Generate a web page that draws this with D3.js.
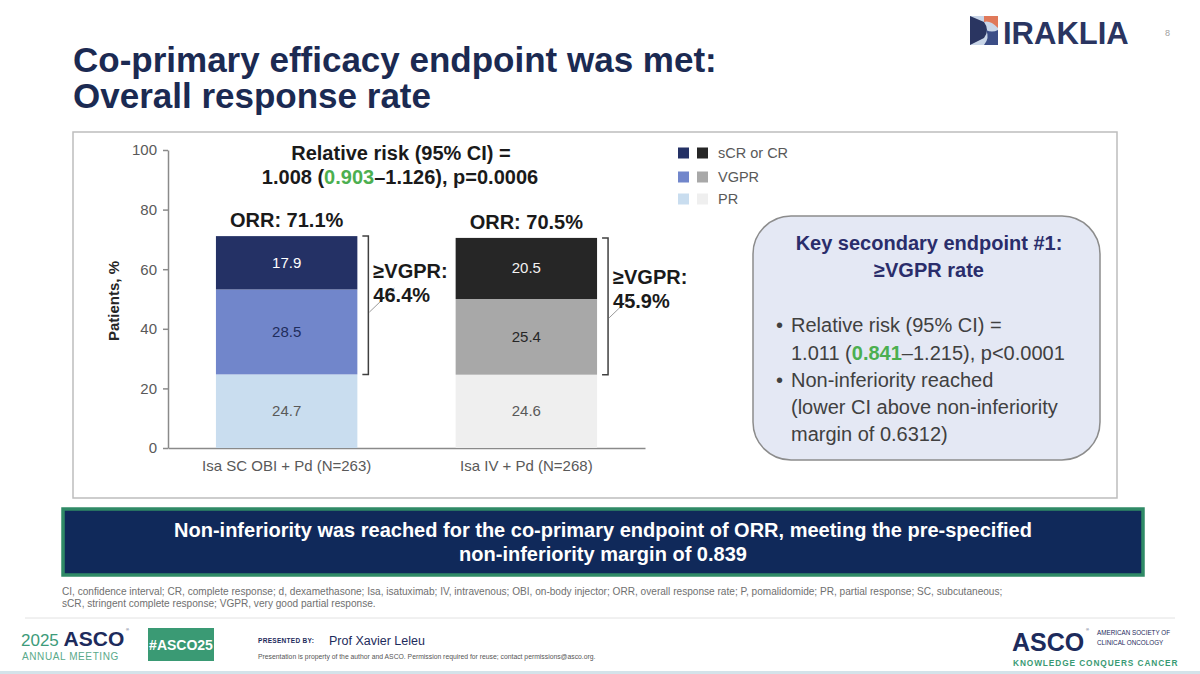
<!DOCTYPE html>
<html><head><meta charset="utf-8">
<script src="https://cdn.jsdelivr.net/npm/d3@7"></script>
<style>
html,body{margin:0;padding:0;background:#fff;}
svg{display:block;font-family:"Liberation Sans",Arial,Helvetica,sans-serif;}
</style>
</head><body>
<svg id="c" width="1200" height="674"></svg>
<script>
// ---------- DATA ----------
const categories = ["Isa SC OBI + Pd (N=263)", "Isa IV + Pd (N=268)"];
const stackKeys = ["PR", "VGPR", "CR"];
const prValues = [24.7, 24.6];
const vgprValues = [28.5, 25.4];
const crValues = [17.9, 20.5];
const orrLabels = ["ORR: 71.1%", "ORR: 70.5%"];
const vgprOrBetterLabels = ["46.4%", "45.9%"];
const yTicks = [0, 20, 40, 60, 80, 100];
const legendLabels = ["sCR or CR", "VGPR", "PR"];

// ---------- STYLES ----------
const fillColors = {
  CR:   ["#243165", "#262626"],
  VGPR: ["#7186cb", "#a8a8a8"],
  PR:   ["#c9ddef", "#efefef"]
};
const valueTextColors = {
  CR:   ["#ffffff", "#f2f2f2"],
  VGPR: ["#1f2d5c", "#262626"],
  PR:   ["#595959", "#595959"]
};
const navy = "#1b2a52";
const green = "#4caf50";
const axisGray = "#8a8a8a";
const tickText = "#595959";

const svg = d3.select("#c");

// ---------- HEADER ----------
svg.append("text").attr("fill", navy).attr("font-weight", "bold").attr("font-size", 35)
  .attr("x", 73).attr("y", 72).text("Co-primary efficacy endpoint was met:");
svg.append("text").attr("fill", navy).attr("font-weight", "bold").attr("font-size", 35)
  .attr("x", 73).attr("y", 108).text("Overall response rate");

// IRAKLIA logo
const logo = svg.append("g");
logo.append("rect").attr("x", 970).attr("y", 16).attr("width", 28).attr("height", 29).attr("fill", "#c9d6e8");
logo.append("path").attr("d", "M970,16 L984,22 Q990,30 984,38 L970,45 Z").attr("fill", "#2a3561");
logo.append("path").attr("d", "M984,16 L998,16 L998,28 Q990,20 984,22 Z").attr("fill", "#e0795a");
logo.append("path").attr("d", "M986,30 Q992,33 998,30 L998,45 L984,45 Q990,38 986,30 Z").attr("fill", "#3b4d86");
svg.append("text").attr("x", 1003).attr("y", 44).attr("fill", "#2a3561")
  .attr("font-weight", "bold").attr("font-size", 31).text("IRAKLIA");
svg.append("text").attr("x", 1165).attr("y", 36).attr("fill", "#a0a0a0")
  .attr("font-size", 9).text("8");

// ---------- CHART FRAME ----------
svg.append("rect").attr("x", 73).attr("y", 132).attr("width", 1044).attr("height", 366)
  .attr("fill", "#fff").attr("stroke", "#bdbdbd").attr("stroke-width", 1.5);

// ---------- SCALES ----------
const x = d3.scaleBand().domain(categories).range([168, 645]).paddingInner(0.41).paddingOuter(0.2);
const y = d3.scaleLinear().domain([0, 100]).range([448, 150]);

const rows = categories.map((c, i) => ({ cat: c, idx: i, PR: prValues[i], VGPR: vgprValues[i], CR: crValues[i] }));
const series = d3.stack().keys(stackKeys)(rows);

// Axes
const yAxis = d3.axisLeft(y).tickValues(yTicks).tickSize(5).tickPadding(6).tickSizeOuter(0);
const gy = svg.append("g").attr("transform", "translate(168,0)").call(yAxis);
gy.select(".domain").attr("stroke", axisGray).attr("stroke-width", 1.5);
gy.selectAll(".tick line").attr("stroke", axisGray).attr("stroke-width", 1.5);
gy.selectAll(".tick text").attr("fill", tickText).attr("font-size", 15)
  .attr("font-family", "'Liberation Sans', Arial, sans-serif");

const xAxis = d3.axisBottom(x).tickSize(0).tickPadding(12).tickSizeOuter(0);
const gx = svg.append("g").attr("transform", "translate(0,448)").call(xAxis);
gx.select(".domain").attr("stroke", axisGray).attr("stroke-width", 1.5);
gx.selectAll(".tick text").attr("fill", tickText).attr("font-size", 15)
  .attr("font-family", "'Liberation Sans', Arial, sans-serif");

svg.append("text").attr("transform", "translate(119,301) rotate(-90)")
  .attr("text-anchor", "middle").attr("font-weight", "bold").attr("font-size", 15)
  .attr("fill", "#262626").text("Patients, %");

// Bars
const layers = svg.append("g").selectAll("g").data(series).join("g");
layers.selectAll("rect").data(d => d.map(v => Object.assign({ key: d.key }, v)))
  .join("rect")
  .attr("x", d => x(d.data.cat))
  .attr("width", x.bandwidth())
  .attr("y", d => y(d[1]))
  .attr("height", d => y(d[0]) - y(d[1]))
  .attr("fill", d => fillColors[d.key][d.data.idx]);
layers.selectAll("text").data(d => d.map(v => Object.assign({ key: d.key }, v)))
  .join("text")
  .attr("x", d => x(d.data.cat) + x.bandwidth() / 2)
  .attr("y", d => y((d[0] + d[1]) / 2) + 5)
  .attr("text-anchor", "middle").attr("font-size", 15)
  .attr("fill", d => valueTextColors[d.key][d.data.idx])
  .text(d => (d[1] - d[0]).toFixed(1));

// ORR labels
const topSeries = series[series.length - 1];
svg.append("g").selectAll("text").data(topSeries).join("text")
  .attr("x", d => x(d.data.cat) + x.bandwidth() / 2)
  .attr("y", d => y(d[1]) - 9)
  .attr("text-anchor", "middle").attr("font-weight", "bold").attr("font-size", 20)
  .attr("fill", "#1a1a1a")
  .text((d, i) => orrLabels[i]);

// ≥VGPR brackets
const vgprSeries = series[1];
const br = svg.append("g");
topSeries.forEach((d, i) => {
  const bx = x(d.data.cat) + x.bandwidth() + 11;
  const yTop = y(d[1]);
  const yBot = y(vgprSeries[i][0]);
  br.append("path")
    .attr("d", `M${bx - 6},${yTop} L${bx},${yTop} L${bx},${yBot} L${bx - 6},${yBot}`)
    .attr("fill", "none").attr("stroke", "#404040").attr("stroke-width", 1.5);
  const lb = yTop + 42 + i * 4;
  br.append("line").attr("x1", bx + 1).attr("y1", lb + 34).attr("x2", bx + 26).attr("y2", lb + 10)
    .attr("stroke", "#9a9a9a").attr("stroke-width", 1);
  const t = br.append("text").attr("font-weight", "bold").attr("font-size", 20).attr("fill", "#1a1a1a");
  t.append("tspan").attr("x", bx + 5).attr("y", lb).text("≥VGPR:");
  t.append("tspan").attr("x", bx + 5).attr("y", lb + 24).text(vgprOrBetterLabels[i]);
});

// Relative risk header
const rr = svg.append("text").attr("text-anchor", "middle").attr("font-weight", "bold")
  .attr("font-size", 20).attr("fill", "#1a1a1a");
rr.append("tspan").attr("x", 401).attr("y", 160).text("Relative risk (95% CI) =");
const rr2 = rr.append("tspan").attr("x", 400).attr("y", 184);
rr2.append("tspan").text("1.008 (");
rr2.append("tspan").attr("fill", green).text("0.903");
rr2.append("tspan").text("–1.126), p=0.0006");

// Legend
const legendRowsY = [153, 177, 199];
const legendKeys = ["CR", "VGPR", "PR"];
const lg = svg.append("g");
legendKeys.forEach((k, r) => {
  [678, 697].forEach((lx, j) => {
    lg.append("rect").attr("x", lx).attr("y", legendRowsY[r] - 5.5).attr("width", 11).attr("height", 11)
      .attr("fill", fillColors[k][j]);
  });
  lg.append("text").attr("x", 718).attr("y", legendRowsY[r] + 5).attr("font-size", 14.5)
    .attr("fill", tickText).text(legendLabels[r]);
});

// Key secondary endpoint box
svg.append("rect").attr("x", 753).attr("y", 216).attr("width", 347).attr("height", 244)
  .attr("rx", 38).attr("ry", 38).attr("fill", "#e4e8f4").attr("stroke", "#8c8c8c").attr("stroke-width", 1.5);
const kt = svg.append("text").attr("text-anchor", "middle").attr("font-weight", "bold")
  .attr("font-size", 20).attr("fill", "#2a2d6b");
kt.append("tspan").attr("x", 929).attr("y", 250).text("Key secondary endpoint #1:");
kt.append("tspan").attr("x", 929).attr("y", 277).text("≥VGPR rate");
const kb = svg.append("g").attr("font-size", 20).attr("fill", "#404040");
kb.append("text").attr("x", 776).attr("y", 332).text("•");
kb.append("text").attr("x", 776).attr("y", 387).text("•");
kb.append("text").attr("x", 791).attr("y", 332).text("Relative risk (95% CI) =");
const kl2 = kb.append("text").attr("x", 791).attr("y", 360);
kl2.append("tspan").text("1.011 (");
kl2.append("tspan").attr("fill", green).attr("font-weight", "bold").text("0.841");
kl2.append("tspan").text("–1.215), p<0.0001");
kb.append("text").attr("x", 791).attr("y", 387).text("Non-inferiority reached");
kb.append("text").attr("x", 791).attr("y", 414).text("(lower CI above non-inferiority");
kb.append("text").attr("x", 791).attr("y", 441).text("margin of 0.6312)");

// ---------- BANNER ----------
svg.append("rect").attr("x", 63).attr("y", 509).attr("width", 1080).attr("height", 66)
  .attr("fill", "#10295a").attr("stroke", "#2f8a66").attr("stroke-width", 3.5);
const bn = svg.append("text").attr("text-anchor", "middle").attr("fill", "#fff")
  .attr("font-weight", "bold").attr("font-size", 20);
bn.append("tspan").attr("x", 603).attr("y", 537)
  .text("Non-inferiority was reached for the co-primary endpoint of ORR, meeting the pre-specified");
bn.append("tspan").attr("x", 603).attr("y", 561).text("non-inferiority margin of 0.839");

// Footnote
const fn = svg.append("text").attr("font-size", 10.1).attr("fill", "#707070");
fn.append("tspan").attr("x", 62).attr("y", 595)
  .text("CI, confidence interval; CR, complete response; d, dexamethasone; Isa, isatuximab; IV, intravenous; OBI, on-body injector; ORR, overall response rate; P, pomalidomide; PR, partial response; SC, subcutaneous;");
fn.append("tspan").attr("x", 62).attr("y", 607)
  .text("sCR, stringent complete response; VGPR, very good partial response.");

// ---------- FOOTER ----------
svg.append("line").attr("x1", 25).attr("x2", 1175).attr("y1", 618).attr("y2", 618)
  .attr("stroke", "#e2e2e2").attr("stroke-width", 1);
const asco1 = svg.append("text").attr("x", 21).attr("y", 646);
asco1.append("tspan").attr("fill", "#3d9b7a").attr("font-size", 17).text("2025 ");
asco1.append("tspan").attr("fill", "#1d2b5c").attr("font-weight", "bold").attr("font-size", 21).text("ASCO");
svg.append("text").attr("x", 126).attr("y", 631).attr("font-size", 4).attr("fill", "#1d2b5c").text("®");
svg.append("text").attr("x", 22).attr("y", 660).attr("font-size", 10).attr("letter-spacing", 0.6)
  .attr("fill", "#5aa98a").text("ANNUAL MEETING");
svg.append("rect").attr("x", 148).attr("y", 628).attr("width", 66).attr("height", 33).attr("fill", "#3a9a74");
svg.append("text").attr("x", 181).attr("y", 650).attr("text-anchor", "middle").attr("fill", "#fff")
  .attr("font-weight", "bold").attr("font-size", 14).text("#ASCO25");
svg.append("text").attr("x", 258).attr("y", 643).attr("font-size", 6.5).attr("font-weight", "bold")
  .attr("fill", "#1d2b5c").attr("letter-spacing", 0.3).text("PRESENTED BY:");
svg.append("text").attr("x", 329).attr("y", 645).attr("font-size", 12.5).attr("fill", "#1d2b5c")
  .text("Prof Xavier Leleu");
svg.append("text").attr("x", 258).attr("y", 659).attr("font-size", 6.8).attr("fill", "#555")
  .text("Presentation is property of the author and ASCO. Permission required for reuse; contact permissions@asco.org.");
svg.append("text").attr("x", 1012).attr("y", 651).attr("font-size", 25).attr("font-weight", "bold")
  .attr("fill", "#1d2b5c").text("ASCO");
svg.append("text").attr("x", 1086).attr("y", 631).attr("font-size", 4).attr("fill", "#1d2b5c").text("®");
svg.append("text").attr("x", 1097).attr("y", 635).attr("font-size", 6.3).attr("fill", "#1d2b5c").text("AMERICAN SOCIETY OF");
svg.append("text").attr("x", 1097).attr("y", 645).attr("font-size", 6.3).attr("fill", "#1d2b5c").text("CLINICAL ONCOLOGY");
svg.append("text").attr("x", 1013).attr("y", 666).attr("font-size", 8.3).attr("font-weight", "bold")
  .attr("letter-spacing", 0.9).attr("fill", "#3a9a74").text("KNOWLEDGE CONQUERS CANCER");
svg.append("rect").attr("x", 0).attr("y", 671).attr("width", 1200).attr("height", 3).attr("fill", "#d4e3ea");
</script>
</body></html>
